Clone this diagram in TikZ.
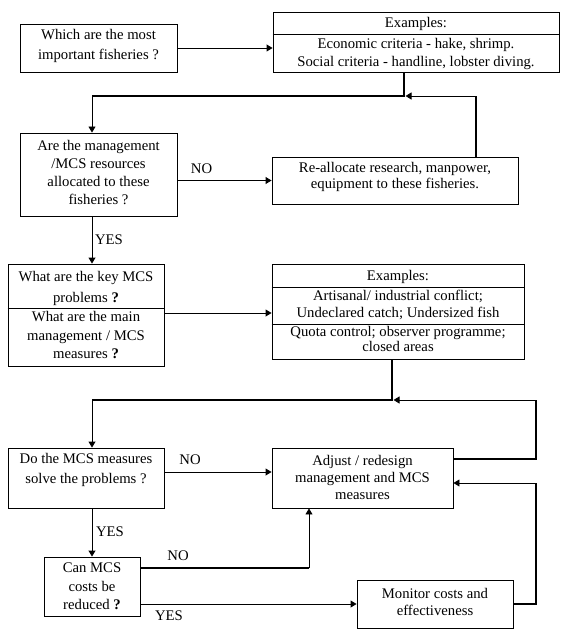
\documentclass[tikz,border=0pt]{standalone}
\usepackage{fontspec}
\setmainfont{Liberation Serif}
\usetikzlibrary{arrows.meta}
\begin{document}
\begin{tikzpicture}[x=1pt,y=-1pt,
  box/.style={draw,line width=0.9pt,inner sep=0pt},
  txt/.style={align=center,inner sep=0pt,font=\fontsize{14.7}{#1}\selectfont},
  txt/.default=17,
  lbl/.style={inner sep=0pt,font=\fontsize{14.7}{16}\selectfont},
  arr/.style={line width=0.9pt,-{Triangle[length=6pt,width=7pt]}},
  thinline/.style={line width=0.9pt},
  thickline/.style={line width=2pt}]
\useasboundingbox (0,0) rectangle (567,639);
% boxes
\node[box,minimum width=157pt,minimum height=48pt] (A) at (98.5,48) {};
\node[box,minimum width=286pt,minimum height=60pt] (B) at (416,42) {};
\node[box,minimum width=157pt,minimum height=83pt] (C) at (98.5,174.5) {};
\node[box,minimum width=246pt,minimum height=47pt] (D) at (395,180.5) {};
\node[box,minimum width=156pt,minimum height=102pt] (E) at (86,315) {};
\node[box,minimum width=252pt,minimum height=95pt] (F) at (398,311.5) {};
\node[box,minimum width=156pt,minimum height=60pt] (G) at (86,478) {};
\node[box,minimum width=181pt,minimum height=60pt] (H) at (362.5,478) {};
\node[box,minimum width=96pt,minimum height=59pt] (I) at (92,586.5) {};
\node[box,minimum width=156pt,minimum height=48pt] (J) at (435,604) {};
% dividers
\draw[thinline] (B.west |- 0,34) -- (B.east |- 0,34);
\draw[thinline] (E.west |- 0,308) -- (E.east |- 0,308);
\draw[thinline] (F.west |- 0,287) -- (F.east |- 0,287);
\draw[thinline] (F.west |- 0,324) -- (F.east |- 0,324);
% texts
\node[txt=20] (At) at (98.5,46) {Which are the most\\important fisheries ?};
\node[txt] (Bt1) at (416,24) {Examples:};
\node[txt=18] (Bt2) at (416,54) {Economic criteria - hake, shrimp.\\Social criteria - handline, lobster diving.};
\node[txt=17.7] (Ct) at (98.5,172.5) {Are the management\\/MCS resources\\allocated to these\\fisheries ?};
\node[txt=16] (Dt) at (395,177) {Re-allocate research, manpower,\\equipment to these fisheries.};
\node[txt=21] (Et1) at (86,288) {What are the key MCS\\problems \textbf{?}};
\node[txt=18.5] (Et2) at (86,335.5) {What are the main\\management / MCS\\measures \textbf{?}};
\node[txt] (Ft1) at (398,277) {Examples:};
\node[txt=17] (Ft2) at (398,304.5) {Artisanal/ industrial conflict;\\Undeclared catch; Undersized fish};
\node[txt=15] (Ft3) at (398,339) {Quota control; observer programme;\\closed areas};
\node[txt=20] (Gt) at (86,470) {Do the MCS measures\\solve the problems ?};
\node[txt=17] (Ht) at (362.5,477) {Adjust / redesign\\management and MCS\\measures};
\node[txt=18.5] (It) at (92,586.5) {Can MCS\\costs be\\reduced \textbf{?}};
\node[txt=17] (Jt) at (435,601.5) {Monitor costs and\\effectiveness};
% labels
\node[lbl] (no1) at (201.5,169) {NO};
\node[lbl] (yes1) at (109,240) {YES};
\node[lbl] (no2) at (190,460) {NO};
\node[lbl] (yes2) at (110,532) {YES};
\node[lbl] (no3) at (178,556) {NO};
\node[lbl] (yes3) at (169,616) {YES};
% junction coordinates
\coordinate (j1) at (404,96);
\coordinate (j1r) at (405.5,96);
\coordinate (j2) at (92,96);
\coordinate (j3) at (476,96);
\coordinate (k1) at (392,400);
\coordinate (k1r) at (393.5,400);
\coordinate (k2) at (92,400);
\coordinate (k3) at (536,400);
\coordinate (h1) at (453,459);
\coordinate (m1) at (309,568);
\coordinate (n1) at (536,604);
\coordinate (n2) at (536,483);
% connectors
\draw[arr] (A.east) -- (A.east -| B.west);
\draw[thickline] (j1 |- B.south) -- (j1) -- (j2);
\draw[arr] (j2) -- (j2 |- C.north);
\draw[thickline] (j3 |- D.north) -- (j3);
\draw[arr] (j3) -- (j1r);
\draw[arr] (C.east |- D.west) -- (D.west);
\draw[arr] (j2 |- C.south) -- (j2 |- E.north);
\draw[arr] (E.east |- 0,313) -- (F.west |- 0,313);
\draw[thickline] (k1 |- F.south) -- (k1) -- (k2);
\draw[arr] (k2) -- (k2 |- G.north);
\draw[thickline] (h1) -- (h1 -| k3) -- (k3);
\draw[arr] (k3) -- (k1r);
\draw[arr] (G.east |- 0,472) -- (H.west |- 0,472);
\draw[arr] (k2 |- G.south) -- (k2 |- I.north);
\draw[thickline] (I.east |- m1) -- (m1);
\draw[arr] (m1) -- (m1 |- H.south);
\draw[arr] (I.east |- J.west) -- (J.west);
\draw[thickline] (J.east) -- (n1) -- (n2);
\draw[arr] (n2) -- (n2 -| H.east);
\end{tikzpicture}
\end{document}
